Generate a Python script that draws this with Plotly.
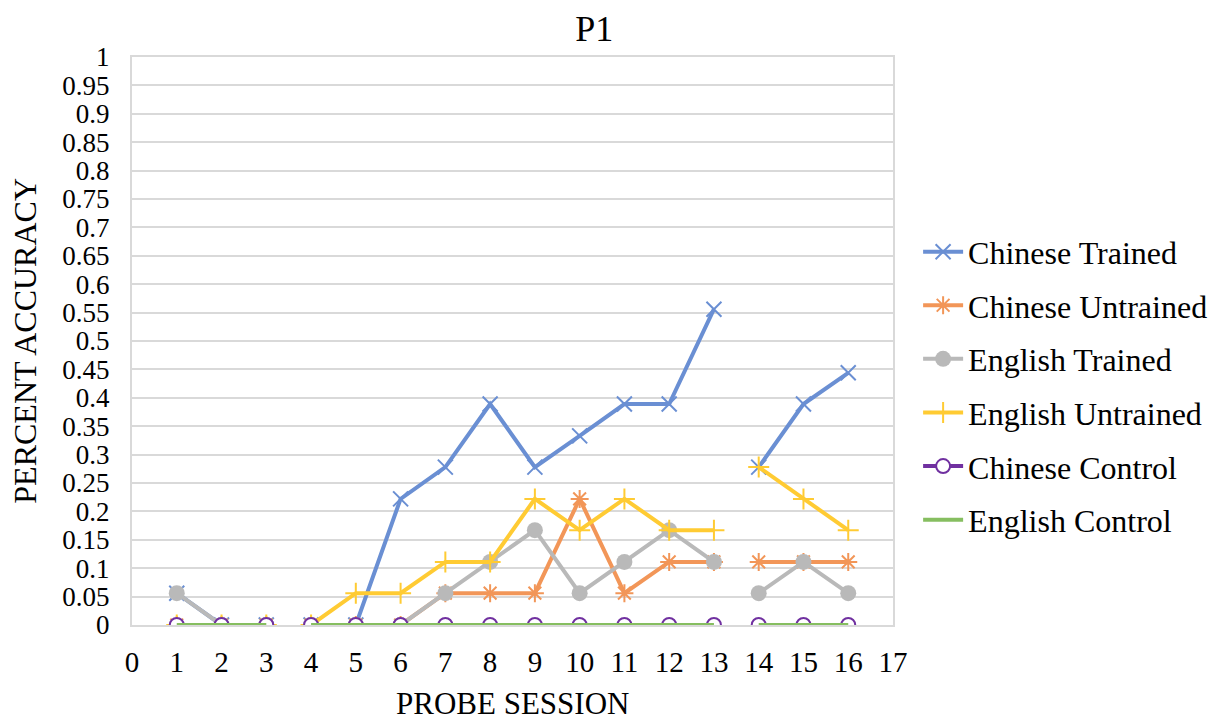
import plotly.graph_objects as go

sessions = [1, 2, 3, None, 4, 5, 6, 7, 8, 9, 10, 11, 12, 13, None, 14, 15, 16]
chinese_trained = [0.056, 0, 0, None, 0, 0, 0.222, 0.278, 0.389, 0.278, 0.333, 0.389, 0.389, 0.556, None, 0.278, 0.389, 0.444]
chinese_untrained = [0, 0, 0, None, 0, 0, 0, 0.056, 0.056, 0.056, 0.222, 0.056, 0.111, 0.111, None, 0.111, 0.111, 0.111]
english_trained = [0.056, 0, 0, None, 0, 0, 0, 0.056, 0.111, 0.167, 0.056, 0.111, 0.167, 0.111, None, 0.056, 0.111, 0.056]
english_untrained = [0, 0, 0, None, 0, 0.056, 0.056, 0.111, 0.111, 0.222, 0.167, 0.222, 0.167, 0.167, None, 0.278, 0.222, 0.167]
chinese_control = [0, 0, 0, None, 0, 0, 0, 0, 0, 0, 0, 0, 0, 0, None, 0, 0, 0]
english_control = [0, 0, 0, None, 0, 0, 0, 0, 0, 0, 0, 0, 0, 0, None, 0, 0, 0]

y_ticks = [i * 0.05 for i in range(21)]
y_labels = ["0", "0.05", "0.1", "0.15", "0.2", "0.25", "0.3", "0.35", "0.4", "0.45", "0.5",
            "0.55", "0.6", "0.65", "0.7", "0.75", "0.8", "0.85", "0.9", "0.95", "1"]
x_ticks = list(range(18))

FONT = "Liberation Serif"

series = [
    ("Chinese Trained", chinese_trained, "#6A8FD3", dict(symbol="x-thin", size=15, line=dict(width=2, color="#6A8FD3"))),
    ("Chinese Untrained", chinese_untrained, "#F29658", dict(symbol="asterisk", size=15, line=dict(width=2, color="#F29658"))),
    ("English Trained", english_trained, "#B9B9B9", dict(symbol="circle", size=16, color="#B9B9B9", line=dict(width=0))),
    ("English Untrained", english_untrained, "#FFCB33", dict(symbol="cross-thin", size=15, line=dict(width=2, color="#FFCB33"))),
    ("Chinese Control", chinese_control, "#7030A0", dict(symbol="circle", size=14, color="white", line=dict(width=2, color="#7030A0"))),
    ("English Control", english_control, "#86BE60", dict(symbol="circle", size=1, opacity=0)),
]

fig = go.Figure()
for i, (name, vals, color, marker) in enumerate(series):
    fig.add_trace(go.Scatter(
        x=sessions, y=vals, name=name, mode="lines+markers",
        line=dict(color=color, width=4), marker=marker,
        legendgroup=f"g{i}", connectgaps=False,
    ))

fig.update_layout(
    width=1214, height=715,
    margin=dict(l=124, r=329, t=49, b=98, autoexpand=False),
    paper_bgcolor="white", plot_bgcolor="white",
    font=dict(family=FONT, size=28, color="black"),
    title=dict(text="P1", x=0.483, xanchor="center", y=0.971, yanchor="middle",
               font=dict(family=FONT, size=36, color="black")),
    legend=dict(x=1.033, xanchor="left", y=0.421, yanchor="middle",
                font=dict(family=FONT, size=32, color="black"),
                tracegroupgap=9, itemwidth=40),
    showlegend=True,
    annotations=[
        dict(text="PROBE SESSION", xref="paper", yref="paper", x=0.5, y=-0.139,
             xanchor="center", yanchor="middle", showarrow=False,
             font=dict(family=FONT, size=31, color="black")),
        dict(text="PERCENT ACCURACY", xref="paper", yref="paper", x=-0.141, y=0.5,
             xanchor="center", yanchor="middle", showarrow=False, textangle=-90,
             font=dict(family=FONT, size=32, color="black")),
    ],
)
fig.update_xaxes(
    range=[0, 17], tickmode="array", tickvals=x_ticks, ticktext=[str(t) for t in x_ticks],
    showgrid=False, zeroline=False, showline=True, linecolor="#D9D9D9", linewidth=2, mirror=True,
    ticks="", ticklabelstandoff=10, automargin=False,
    tickfont=dict(family=FONT, size=29, color="black"),
)
fig.update_yaxes(
    range=[0, 1], tickmode="array", tickvals=y_ticks, ticktext=y_labels,
    showgrid=True, gridcolor="#D9D9D9", gridwidth=2, zeroline=False,
    showline=True, linecolor="#D9D9D9", linewidth=2, mirror=True,
    ticks="", ticklabelstandoff=15, automargin=False,
    tickfont=dict(family=FONT, size=27, color="black"),
)

fig.write_html("out.html")
